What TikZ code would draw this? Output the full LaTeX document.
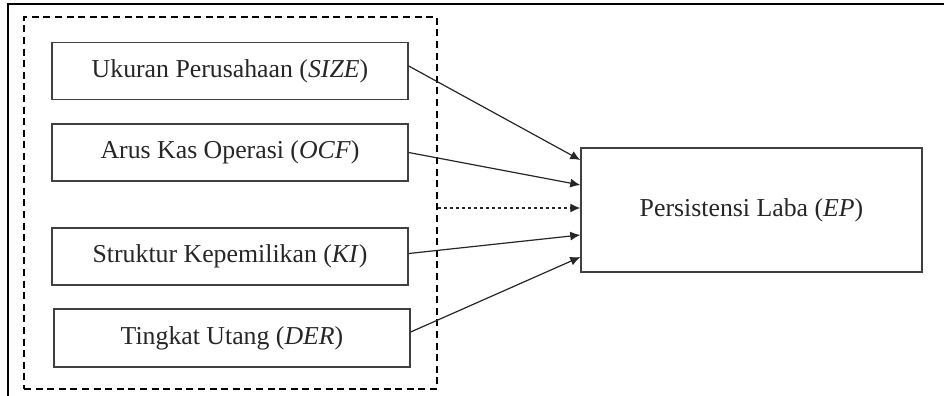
\documentclass[tikz,border=0pt]{standalone}
\usepackage{fontspec}
\setmainfont{Liberation Serif}
\usetikzlibrary{arrows.meta,calc}

\begin{document}
\begin{tikzpicture}[x=0.5pt, y=-0.5pt, >={Latex[length=5pt,width=4.5pt]},
    varbox/.style={draw=black!75, line width=0.7pt, minimum width=178pt,
      minimum height=28.5pt, inner sep=0pt, text=black!85,
      font=\fontsize{12.9}{15}\selectfont},
    link/.style={->, draw=black!85, line width=0.6pt}]
    \useasboundingbox (0,0) rectangle (944,396);
    % ---- the cropped frame of the figure
    \draw[line width=1.1pt] (944,4) -- (8,4) -- (8,396);
    % ---- the group of independent variables
    \node[draw, line width=1.2pt, dash pattern=on 3.5pt off 2.3pt,
      minimum width=206.5pt, minimum height=186pt, inner sep=0pt]
      (grp) at (230.5,203) {};
    \node[varbox] (size) at (230,71) {Ukuran Perusahaan (\textit{SIZE})};
    \node[varbox] (ocf) at (230,152.5) {Arus Kas Operasi (\textit{OCF})};
    \node[varbox] (ki) at (230,256.5) {Struktur Kepemilikan (\textit{KI})};
    \node[varbox, minimum height=29pt] (der) at (232,338) {Tingkat Utang (\textit{DER})};
    % ---- the dependent variable
    \node[varbox, minimum width=170.5pt, minimum height=62pt]
      (ep) at (751.5,210) {Persistensi Laba (\textit{EP})};
    % the arrows into EP
    \draw[link] ([yshift=2.5pt]size.east) -- ([yshift=25pt]ep.west);
    \draw[link] (ocf.east) -- ([yshift=12.5pt]ep.west);
    \draw[link] ([yshift=1.5pt]ki.east) -- ([yshift=-12.5pt]ep.west);
    \draw[link] ([yshift=3pt]der.east) -- ([yshift=-23.5pt]ep.west);
    \draw[link, dash pattern=on 1.6pt off 1.4pt] ([yshift=-2.5pt]grp.east)
      -- ([yshift=-2.5pt]grp.east -| ep.west);
\end{tikzpicture}
\end{document}
